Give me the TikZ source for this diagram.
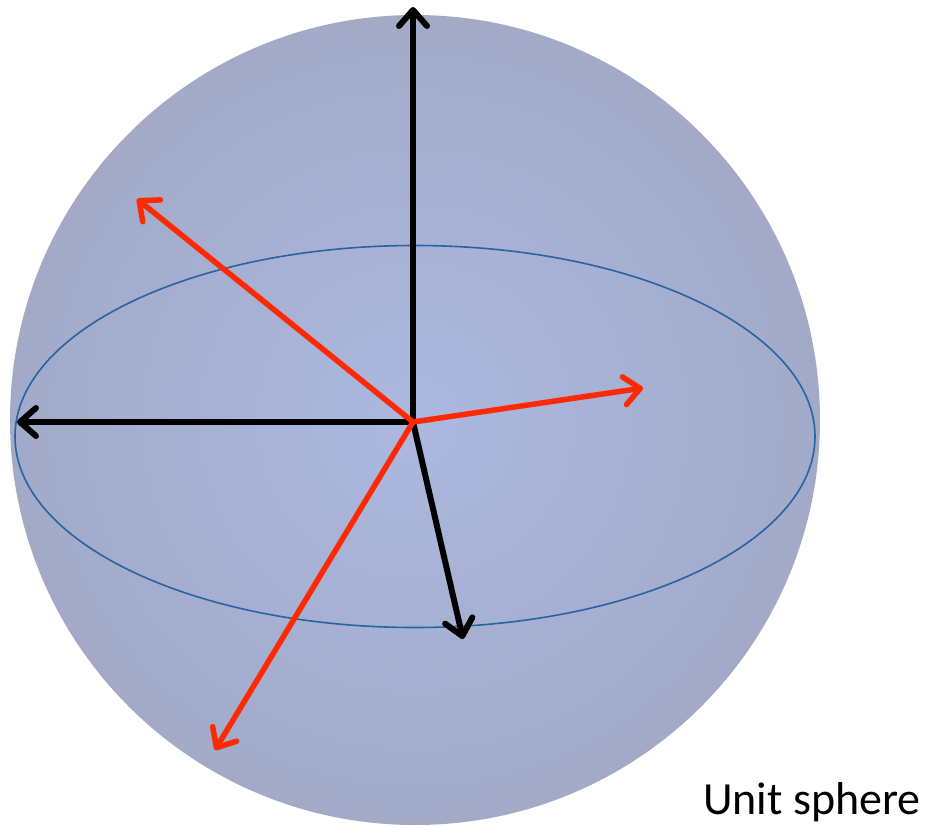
\documentclass[tikz,border=0pt]{standalone}
\usepackage{fontspec}
\setmainfont{Carlito}
\usetikzlibrary{arrows.meta}
\definecolor{sphin}{RGB}{172,184,224}
\definecolor{sphout}{RGB}{162,170,200}
\definecolor{eqblue}{RGB}{40,100,160}
\definecolor{vred}{RGB}{255,40,0}
\tikzset{
  blk/.style={draw=black,line width=6pt,line cap=round,-{Straight Barb[length=16pt,width=28pt,line cap=round,line join=round]}},
  rd/.style={draw=vred,line width=5.5pt,line cap=round,-{Straight Barb[length=16pt,width=28pt,line cap=round,line join=round]}},
}
\begin{document}
\begin{tikzpicture}[x=1pt,y=-1pt]
\useasboundingbox (0,0) rectangle (934,825);
\shade[inner color=sphin,outer color=sphout] (415,420) circle[radius=405];
\draw[eqblue,line width=1.6pt] (415,436.5) ellipse[x radius=400,y radius=191];
\coordinate (o) at (413,422);
\coordinate (zt) at (413,7);
\coordinate (xl) at (17,422);
\coordinate (yd) at (463,639);
\coordinate (r1) at (137,199);
\coordinate (r2) at (643,388);
\coordinate (r3) at (215,750);
\draw[blk] (o) -- (zt);
\draw[blk] (o) -- (xl);
\draw[blk] (o) -- (yd);
\draw[rd] (o) -- (r1);
\draw[rd] (o) -- (r2);
\draw[rd] (o) -- (r3);
\node[anchor=base,font=\fontsize{46}{50}\selectfont,inner sep=0pt] (lbl) at (812,814) {Unit sphere};
\end{tikzpicture}
\end{document}
